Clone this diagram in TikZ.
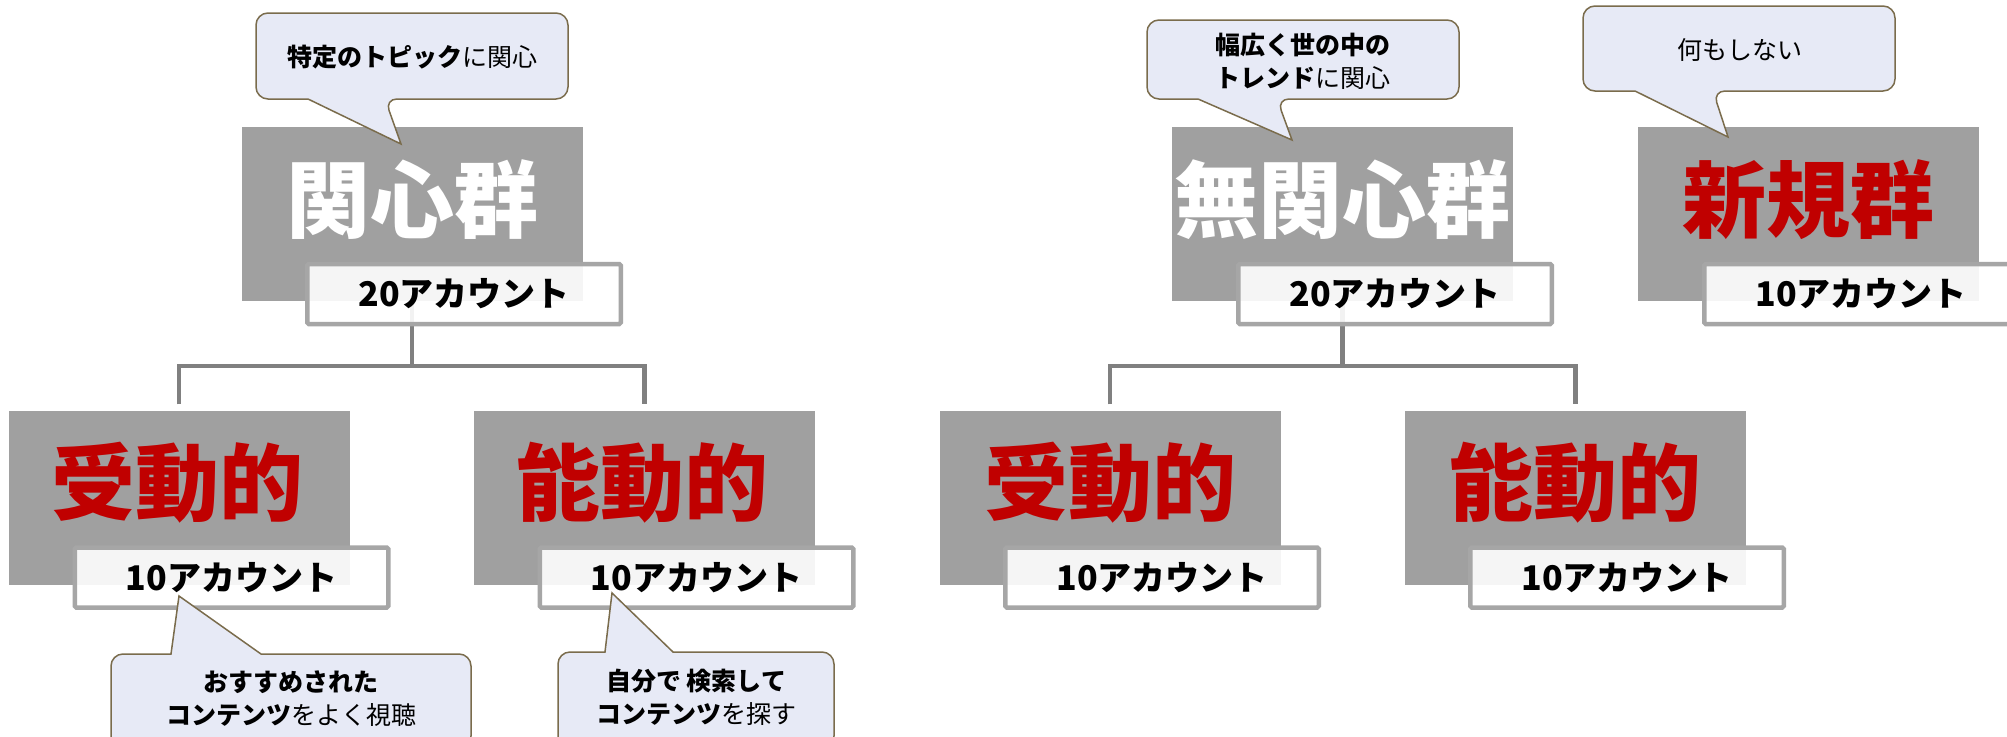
\documentclass[tikz,border=0pt]{standalone}
\usepackage{fontspec}
\newfontfamily\jp{Noto Sans CJK JP}
\usetikzlibrary{calc}
\definecolor{blockgray}{HTML}{A0A0A0}
\definecolor{boxborder}{HTML}{A6A6A6}
\definecolor{connc}{HTML}{808080}
\definecolor{titlered}{HTML}{C00000}
\definecolor{bubblefill}{HTML}{E7EAF6}
\definecolor{bubbleline}{HTML}{7A6C4C}
\begin{document}
\begin{tikzpicture}[x=1pt,y=-1pt,
  block/.style={rectangle,fill=blockgray,draw=none,minimum width=341pt,minimum height=174pt,inner sep=0pt},
  acct/.style={rectangle,draw=boxborder,line width=4.5pt,fill=white,fill opacity=0.9,draw opacity=1,
    minimum width=313.5pt,minimum height=60pt,inner sep=0pt,rounded corners=1.5pt},
  acctext/.style={inner sep=0pt,font=\jp\bfseries\fontsize{34}{40}\selectfont,text=black},
  title/.style={inner sep=0pt,font=\jp\bfseries\fontsize{84}{90}\selectfont},
  conn/.style={draw=connc,line width=4.5pt,line join=miter},
  bubble/.style={fill=bubblefill,draw=bubbleline,line width=1.5pt,line join=miter},
  btext/.style={inner sep=0pt,align=center,font=\jp\fontsize{25}{33}\selectfont,text=black}]
\clip (0,0) rectangle (2007,736);
\fill[white] (0,0) rectangle (2007,736);
% blocks
\node[block] (G1) at (412,214) {};
\node[block] (G2) at (1342.5,214) {};
\node[block] (G3) at (1808.5,214) {};
\node[block] (C1) at (179,497.5) {};
\node[block] (C2) at (644.5,497.5) {};
\node[block] (C3) at (1110,497.5) {};
\node[block] (C4) at (1575.5,497.5) {};
% connectors
\draw[conn] (G1.south) -- ++(0,65) coordinate (J1);
\draw[conn] ($(C1.north)+(0,-6)$) |- (J1) -| ($(C2.north)+(0,-6)$);
\draw[conn] (G2.south) -- ++(0,65) coordinate (J2);
\draw[conn] ($(C3.north)+(0,-6)$) |- (J2) -| ($(C4.north)+(0,-6)$);
% account boxes
\node[acct] (A1) at (464,294) {};
\node[acct] (A2) at (1395,294) {};
\node[acct] (A3) at (1861,294) {};
\node[acct] (A4) at (231.5,577.5) {};
\node[acct] (A5) at (696.5,577.5) {};
\node[acct] (A6) at (1162,577.5) {};
\node[acct] (A7) at (1627,577.5) {};
\node[acctext] (N1) at (A1) {20アカウント};
\node[acctext] (N2) at (A2) {20アカウント};
\node[acctext] (N3) at (A3) {10アカウント};
\node[acctext] (N4) at (A4) {10アカウント};
\node[acctext] (N5) at (A5) {10アカウント};
\node[acctext] (N6) at (A6) {10アカウント};
\node[acctext] (N7) at (A7) {10アカウント};
% titles
\node[title,text=white] (T1) at (412,200) {関心群};
\node[title,text=white] (T2) at (1342,200) {無関心群};
\node[title,text=titlered] (T3) at (1808,200) {新規群};
\node[title,text=titlered] (T4) at (177,483) {受動的};
\node[title,text=titlered] (T5) at (642,483) {能動的};
\node[title,text=titlered] (T6) at (1110,483) {受動的};
\node[title,text=titlered] (T7) at (1575,483) {能動的};
% bubbles
\draw[bubble,rounded corners=12pt] (256,56) -- (256,13) -- (568,13) -- (568,99) -- (385,99) [sharp corners] -- (401,144) -- (308,99) [rounded corners=12pt] -- (256,99) -- cycle;
\draw[bubble,rounded corners=12pt] (1147,60) -- (1147,20) -- (1459,20) -- (1459,99) -- (1277,99) [sharp corners] -- (1292,140) -- (1198,99) [rounded corners=12pt] -- (1147,99) -- cycle;
\draw[bubble,rounded corners=12pt] (1583,50) -- (1583,6) -- (1895,6) -- (1895,91) -- (1713,91) [sharp corners] -- (1728,137) -- (1635,91) [rounded corners=12pt] -- (1583,91) -- cycle;
\draw[bubble,rounded corners=12pt] (111,700) -- (111,654) [sharp corners] -- (171,654) -- (179,596) -- (261,654) [rounded corners=12pt] -- (471,654) -- (471,748) -- (111,748) -- cycle;
\draw[bubble,rounded corners=12pt] (558,700) -- (558,652) [sharp corners] -- (605,652) -- (612,593) -- (673,652) [rounded corners=12pt] -- (834,652) -- (834,748) -- (558,748) -- cycle;
% bubble texts
\node[btext] (L1) at (412,57) {{\bfseries 特定のトピック}に関心};
\node[btext] (L2) at (1303,61) {{\bfseries 幅広く世の中の}\\{\bfseries トレンド}に関心};
\node[btext] (L3) at (1740,50) {何もしない};
\node[btext] (L4) at (291,699) {{\bfseries おすすめされた}\\{\bfseries コンテンツ}をよく視聴};
\node[btext] (L5) at (696,697) {{\bfseries 自分で 検索して}\\{\bfseries コンテンツ}を探す};
\end{tikzpicture}
\end{document}
